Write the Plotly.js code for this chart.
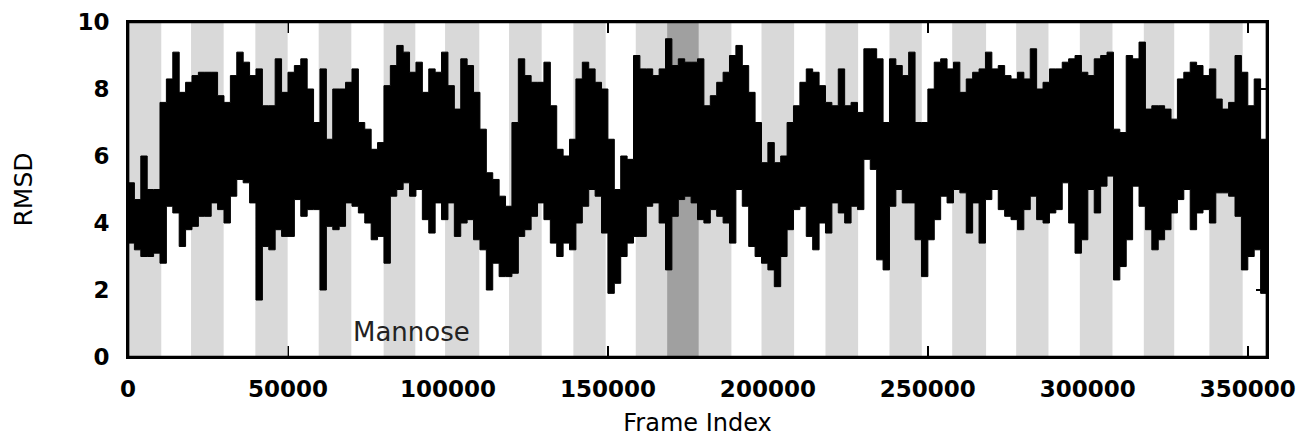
<!DOCTYPE html>
<html>
<head>
<meta charset="utf-8">
<script src="https://cdn.plot.ly/plotly-3.0.1.min.js"></script>
<style>html,body{margin:0;padding:0;background:#fff;}#chart{width:1315px;height:443px;}</style>
</head>
<body>
<div id="chart"></div>
<script>
// RMSD envelope sampled every 2000 frames (0 .. 356000)
var sampleStep = 2000;
var rmsdHigh = [
5.2,4.7,6.0,5.0,5.0,7.6,8.3,9.1,7.9,8.2,
8.4,8.5,8.5,8.5,7.8,7.6,8.4,9.1,8.8,8.4,
8.6,7.5,7.5,8.9,7.9,8.5,8.7,8.9,8.0,7.0,
8.6,6.5,8.0,8.0,8.2,8.6,7.0,6.8,6.2,6.4,
8.1,8.7,9.3,9.1,8.5,8.8,7.9,8.6,8.5,9.1,
8.1,7.4,8.9,8.7,7.9,6.8,5.5,5.3,4.8,4.5,
7.0,8.9,8.4,8.2,8.2,8.8,7.5,6.2,6.0,6.5,
8.3,8.8,8.6,8.2,8.0,6.5,5.0,6.0,5.9,9.0,
8.6,8.6,8.4,8.6,9.5,8.7,8.9,8.8,8.8,8.9,
7.5,7.8,8.2,8.5,9.0,9.3,8.7,7.9,7.0,5.8,
6.4,5.8,6.0,7.0,7.5,8.2,8.6,8.5,8.1,7.6,
7.5,8.6,7.5,7.6,7.3,9.2,9.2,8.9,7.0,8.9,
8.7,8.4,9.1,7.0,7.0,8.0,8.8,8.9,8.6,8.8,
7.9,8.3,8.5,8.6,9.1,8.6,8.7,8.4,8.3,8.5,
8.3,9.2,8.0,8.2,8.6,8.6,8.8,8.9,9.0,8.5,
8.4,8.9,9.0,9.1,6.8,6.7,9.0,8.9,9.4,7.4,
7.5,7.5,7.4,7.1,8.3,8.5,8.8,8.7,8.4,8.6,
7.7,7.4,7.6,9.0,8.5,7.5,8.3,6.5,8.2
];
var rmsdLow = [
3.4,3.2,3.0,3.0,3.1,2.8,4.5,4.3,3.3,3.8,
3.9,4.2,4.2,4.6,4.4,4.0,4.8,5.3,5.2,4.6,
1.7,3.3,3.2,3.8,3.6,3.6,4.7,4.2,4.4,4.4,
2.0,3.9,3.8,3.9,4.6,4.5,4.3,4.0,3.5,3.6,
2.8,4.8,5.0,5.2,4.8,5.0,4.1,3.7,4.6,4.1,
4.6,3.6,4.0,4.1,3.5,3.2,2.0,2.8,2.4,2.4,
2.5,3.6,3.8,4.2,4.6,4.1,3.4,3.0,3.4,3.2,
4.0,4.5,5.0,4.8,3.7,1.9,2.2,3.0,3.4,3.6,
3.6,4.5,4.6,4.0,2.6,4.2,4.7,4.8,4.6,4.1,
4.0,4.4,4.2,4.0,3.4,5.0,4.5,3.3,3.0,2.8,
2.6,2.1,3.0,3.8,4.4,4.5,3.6,3.2,4.0,3.7,
4.6,4.3,4.0,4.5,4.4,5.9,5.6,2.9,2.6,4.5,
5.0,4.6,4.6,3.5,2.4,3.5,4.1,4.8,4.6,5.0,
4.9,3.7,4.6,3.4,4.7,5.0,4.4,4.2,4.1,3.8,
4.4,4.8,4.1,4.0,4.3,4.4,5.2,4.0,3.1,3.5,
5.0,4.3,5.1,5.4,2.3,2.7,3.5,5.1,4.5,3.8,
3.2,3.5,3.8,4.3,4.7,5.0,3.8,4.3,4.4,4.0,
4.9,4.9,4.8,4.2,2.6,3.0,3.2,1.9,3.0
];
// shaded trajectory segments (frames)
var bandStart = [0,19700,39800,59600,79900,99100,119100,139200,158700,178400,198000,218000,238000,257600,277600,297500,317500,338000];
var bandEnd   = [10400,29900,49900,69800,89800,109800,129300,149300,168500,188600,208200,228200,248100,268200,287700,307700,327000,348400];
var highlightStart = [168500];
var highlightEnd   = [178400];
var xTickVals = [0,50000,100000,150000,200000,250000,300000,350000];
var yTickVals = [0,2,4,6,8,10];
var labelText = "Mannose";
var labelFrame = 88700, labelRmsd = 0.76;

var frames = rmsdHigh.map(function(_, i){ return i * sampleStep; });

function bandTrace(s, e, color){
  return {
    type:'bar', x:s.map(function(v,i){return (v+e[i])/2;}),
    width:s.map(function(v,i){return e[i]-v;}),
    y:s.map(function(){return 10;}), base:0,
    marker:{color:color, line:{width:0}}, hoverinfo:'skip', showlegend:false
  };
}

var traces = [
  bandTrace(bandStart, bandEnd, '#d9d9d9'),
  bandTrace(highlightStart, highlightEnd, '#a0a0a0'),
  {type:'scatter', mode:'lines', x:frames, y:rmsdLow, line:{color:'#000', width:1, shape:'hv'}, hoverinfo:'skip', showlegend:false},
  {type:'scatter', mode:'lines', x:frames, y:rmsdHigh, fill:'tonexty', fillcolor:'#000', line:{color:'#000', width:1, shape:'hv'}, hoverinfo:'skip', showlegend:false}
];

var layout = {
  width:1315, height:443,
  margin:{l:127.5, r:47.7, t:22, b:86},
  paper_bgcolor:'#fff', plot_bgcolor:'#fff',
  barmode:'overlay', showlegend:false,
  font:{family:'DejaVu Sans', color:'#000'},
  xaxis:{
    range:[0,356000], tickvals:xTickVals, ticktext:xTickVals.map(String),
    ticks:'inside', ticklen:11, tickwidth:2, tickcolor:'#000',
    showline:true, linecolor:'#000', linewidth:2, mirror:'ticks',
    showgrid:false, zeroline:false, layer:'below traces',
    ticklabelstandoff:10,
    tickfont:{family:'DejaVu Sans', size:23, weight:'bold', color:'#000'},
    title:{text:'Frame Index', font:{family:'DejaVu Sans', size:24, color:'#000'}, standoff:14}
  },
  yaxis:{
    range:[0,10], tickvals:yTickVals, ticktext:yTickVals.map(String),
    ticks:'inside', ticklen:11, tickwidth:2, tickcolor:'#000',
    showline:true, linecolor:'#000', linewidth:2, mirror:'ticks',
    showgrid:false, zeroline:false, layer:'below traces',
    ticklabelstandoff:12,
    tickfont:{family:'DejaVu Sans', size:23, weight:'bold', color:'#000'},
    title:{text:'RMSD', font:{family:'DejaVu Sans', size:25, color:'#000'}, standoff:38}
  },
  shapes:[{type:'rect', xref:'paper', yref:'paper', x0:0, x1:1, y0:0, y1:1, line:{color:'#000', width:2.7}, fillcolor:'rgba(0,0,0,0)', layer:'above'}],
  annotations:[{x:labelFrame, y:labelRmsd, xref:'x', yref:'y', text:labelText, showarrow:false, xanchor:'center', yanchor:'middle', font:{family:'DejaVu Sans', size:26, color:'#222'}}]
};

Plotly.newPlot('chart', traces, layout, {displayModeBar:false, staticPlot:true});
</script>
</body>
</html>
